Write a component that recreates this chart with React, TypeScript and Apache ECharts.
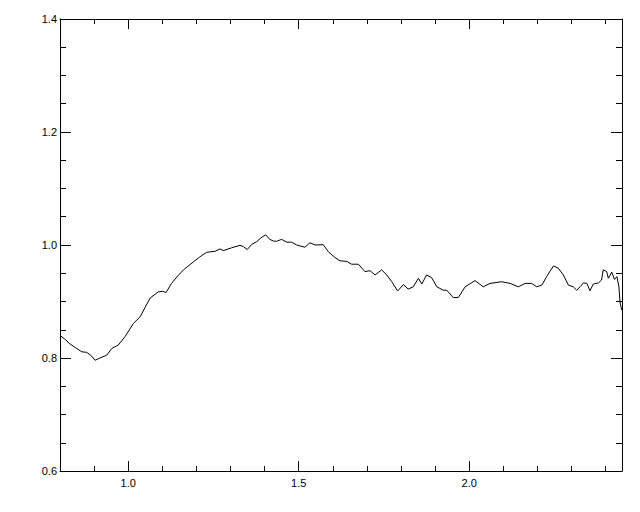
import React, { useEffect, useRef } from "react";
import * as echarts from "echarts";

const xValues = [
  0.8, 0.815, 0.829, 0.846, 0.864, 0.878, 0.89, 0.903, 0.917, 0.937, 0.952, 0.971, 0.991,
  1.015, 1.035, 1.05, 1.064, 1.088, 1.1, 1.111, 1.127, 1.145, 1.162, 1.191, 1.21, 1.23,
  1.255, 1.269, 1.279, 1.303, 1.328, 1.338, 1.349, 1.362, 1.377, 1.39, 1.403, 1.415, 1.426,
  1.435, 1.45, 1.465, 1.479, 1.494, 1.518, 1.533, 1.548, 1.572, 1.587, 1.606, 1.621, 1.641,
  1.655, 1.675, 1.694, 1.709, 1.724, 1.743, 1.758, 1.773, 1.79, 1.807, 1.821, 1.836, 1.851,
  1.861, 1.875, 1.89, 1.905, 1.924, 1.934, 1.953, 1.968, 1.988, 2.017, 2.041, 2.061, 2.095,
  2.12, 2.144, 2.164, 2.183, 2.198, 2.213, 2.227, 2.247, 2.261, 2.276, 2.291, 2.305, 2.315,
  2.325, 2.335, 2.345, 2.354, 2.364, 2.379, 2.388, 2.393, 2.403, 2.408, 2.418, 2.426, 2.433,
  2.439, 2.442, 2.447,
];
const yValues = [
  0.84, 0.833, 0.825, 0.818, 0.811, 0.81, 0.805, 0.796, 0.8, 0.805, 0.817, 0.823, 0.838,
  0.861, 0.873, 0.89, 0.906, 0.917, 0.918, 0.916, 0.932, 0.945, 0.956, 0.97, 0.979, 0.987,
  0.989, 0.993, 0.99, 0.995, 0.9995, 0.997, 0.992, 1.001, 1.006, 1.013, 1.018, 1.01, 1.007,
  1.0065, 1.01, 1.005, 1.005, 1.0, 0.996, 1.004, 1.0, 1.0005, 0.988, 0.978, 0.972, 0.971,
  0.966, 0.966, 0.953, 0.9545, 0.947, 0.956, 0.947, 0.935, 0.9186, 0.93, 0.922, 0.926, 0.941,
  0.931, 0.947, 0.942, 0.926, 0.92, 0.92, 0.907, 0.907, 0.926, 0.937, 0.926, 0.932, 0.935,
  0.932, 0.926, 0.932, 0.932, 0.926, 0.929, 0.944, 0.963, 0.959, 0.947, 0.929, 0.926, 0.92,
  0.926, 0.933, 0.932, 0.919, 0.931, 0.933, 0.938, 0.956, 0.953, 0.941, 0.952, 0.939, 0.944,
  0.926, 0.9, 0.885,
];

const xMajorTicks = [1.0, 1.5, 2.0];
const xMinorTicks = [0.8, 0.9, 1.0, 1.1, 1.2, 1.3, 1.4, 1.5, 1.6, 1.7, 1.8, 1.9, 2.0, 2.1, 2.2, 2.3, 2.4];
const yMajorTicks = [0.6, 0.8, 1.0, 1.2, 1.4];
const yMinorTicks = [0.65, 0.7, 0.75, 0.85, 0.9, 0.95, 1.05, 1.1, 1.15, 1.25, 1.3, 1.35];

const X_MIN = 0.8;
const X_MAX = 2.448;
const Y_MIN = 0.6;
const Y_MAX = 1.4;

export default function App() {
  const ref = useRef<HTMLDivElement>(null);
  useEffect(() => {
    if (!ref.current) return;
    const chart = echarts.init(ref.current, undefined, { renderer: "svg" });
    const lineStyle = { color: "#000", width: 1 };
    const font = { fontFamily: "Liberation Sans", fontSize: 11, color: "#000" };
    const mkX = (position: string, ticks: number[], len: number, labels: boolean, show: boolean) => ({
      type: "value",
      position,
      min: X_MIN,
      max: X_MAX,
      axisLine: { show, onZero: false, lineStyle },
      splitLine: { show: false },
      axisTick: { show: true, inside: true, length: len, customValues: ticks, lineStyle },
      axisLabel: labels
        ? { show: true, customValues: xMajorTicks, margin: 6, ...font, formatter: (v: number) => v.toFixed(1) }
        : { show: false },
    });
    const mkY = (position: string, ticks: number[], len: number, labels: boolean, show: boolean) => ({
      type: "value",
      position,
      min: Y_MIN,
      max: Y_MAX,
      axisLine: { show, onZero: false, lineStyle },
      splitLine: { show: false },
      axisTick: { show: true, inside: true, length: len, customValues: ticks, lineStyle },
      axisLabel: labels
        ? { show: true, customValues: yMajorTicks, margin: 3, ...font, formatter: (v: number) => v.toFixed(1) }
        : { show: false },
    });
    chart.setOption({
      animation: false,
      backgroundColor: "#fff",
      grid: { left: 60, top: 19, right: 18, bottom: 41, containLabel: false },
      xAxis: [
        mkX("bottom", xMajorTicks, 10, true, true),
        mkX("bottom", xMinorTicks, 5, false, false),
        mkX("top", xMajorTicks, 10, false, true),
        mkX("top", xMinorTicks, 5, false, false),
      ],
      yAxis: [
        mkY("left", yMajorTicks, 11, true, true),
        mkY("left", yMinorTicks, 6, false, false),
        mkY("right", yMajorTicks, 11, false, true),
        mkY("right", yMinorTicks, 6, false, false),
      ],
      series: [
        {
          type: "line",
          xAxisIndex: 0,
          yAxisIndex: 0,
          data: xValues.map((x, i) => [x, yValues[i]]),
          showSymbol: false,
          symbol: "none",
          lineStyle: { color: "#000", width: 1 },
          clip: true,
        },
      ],
    });
    return () => chart.dispose();
  }, []);
  return (
    <div
      ref={ref}
      style={{ position: "fixed", left: 0, top: 0, width: 640, height: 512, background: "#fff" }}
    />
  );
}
